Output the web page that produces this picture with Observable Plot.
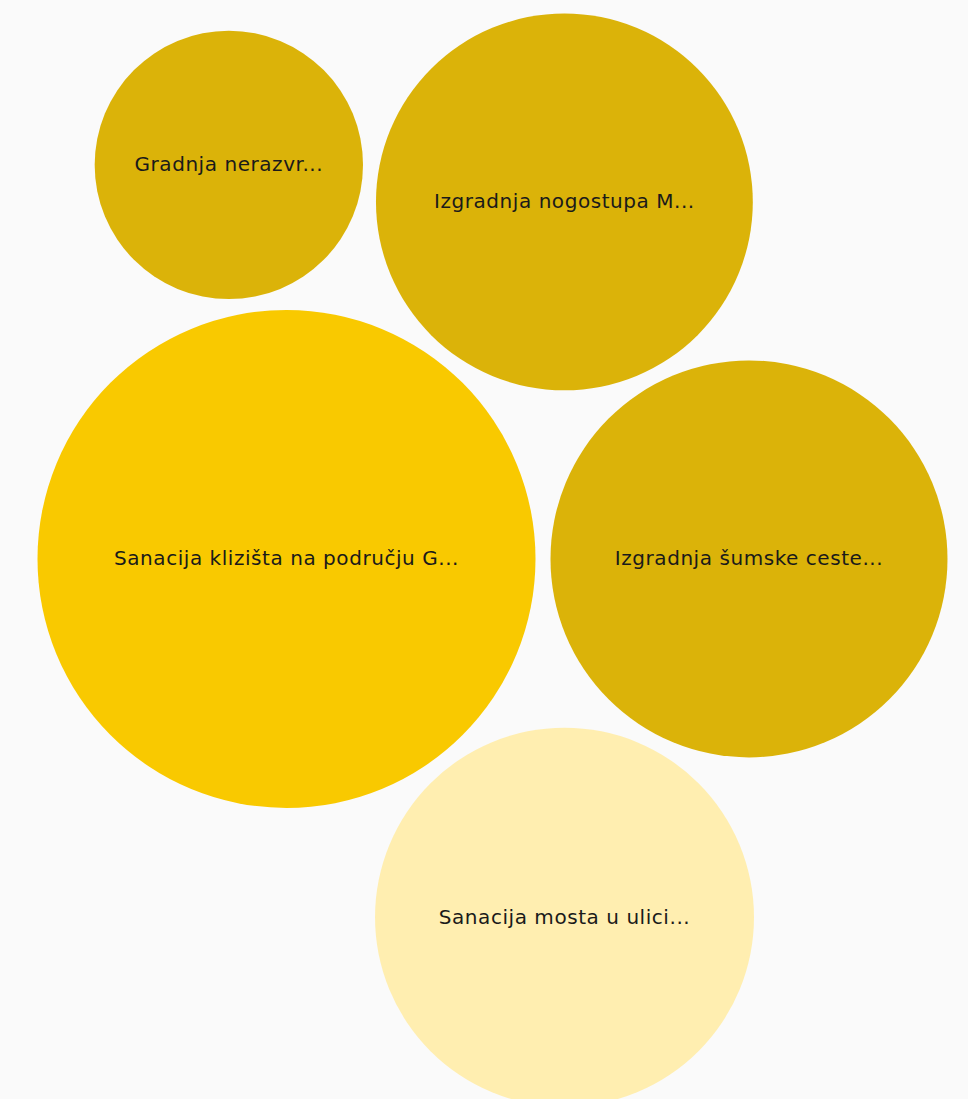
<!DOCTYPE html>
<html>
<head>
<meta charset="utf-8">
<script src="https://cdn.jsdelivr.net/npm/d3@7"></script>
<script src="https://cdn.jsdelivr.net/npm/@observablehq/plot@0.6"></script>
<style>
  html, body { margin: 0; padding: 0; background: #FAFAFA; overflow: hidden; }
  #chart svg { display: block; }
</style>
</head>
<body>
<div id="chart"></div>
<script>
// Project labels (as displayed, truncated)
const labels = [
  "Sanacija klizišta na području G...",
  "Izgradnja šumske ceste...",
  "Sanacija mosta u ulici...",
  "Izgradnja nogostupa M...",
  "Gradnja nerazvr..."
];
// Estimated values (bubble area)
const values = [620000, 394000, 359000, 355000, 180000];
// Colour group per project
const groups = ["A", "B", "C", "B", "B"];
const groupDomain = ["A", "B", "C"];
const groupColors = ["#F9C900", "#DBB309", "#FFEEB0"];

const W = 968, H = 1099;
const rMax = 249, pad = 7.5;
const vMax = d3.max(values);
const rScale = d3.scaleSqrt().domain([0, vMax]).range([0, rMax]);

const data = labels.map((label, i) => ({label, value: values[i], group: groups[i]}))
  .sort((a, b) => b.value - a.value);
const circles = data.map(d => ({d, r: rScale(d.value) + pad}));
d3.packSiblings(circles);
circles.forEach(c => { c.d.x = c.x; c.d.y = c.y; });

const minX = d3.min(data, d => d.x - rScale(d.value));
const minY = d3.min(data, d => d.y - rScale(d.value));
const offLeft = 37, offTop = 13;

const chart = Plot.plot({
  width: W,
  height: H,
  margin: 0,
  x: {axis: null, domain: [minX - offLeft, minX - offLeft + W], range: [0, W]},
  y: {axis: null, domain: [minY - offTop, minY - offTop + H], range: [0, H]},
  r: {type: "sqrt", domain: [0, vMax], range: [0, rMax]},
  color: {domain: groupDomain, range: groupColors},
  style: {background: "#FAFAFA", fontFamily: "'DejaVu Sans', sans-serif", letterSpacing: "0.55px"},
  marks: [
    Plot.dot(data, {x: "x", y: "y", r: "value", fill: "group", stroke: "none"}),
    Plot.text(data, {x: "x", y: "y", text: "label", fontSize: 20, fill: "#1a1a1a"})
  ]
});
document.getElementById("chart").append(chart);
</script>
</body>
</html>
